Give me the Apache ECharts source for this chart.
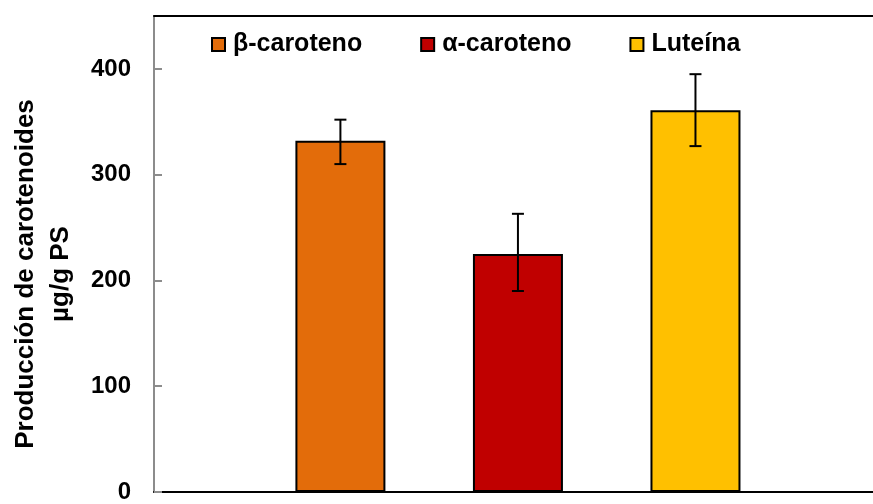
<!DOCTYPE html>
<html>
<head>
<meta charset="utf-8">
<script src="https://cdn.jsdelivr.net/npm/echarts@6/dist/echarts.min.js"></script>
<style>
  html, body { margin: 0; padding: 0; background: #ffffff; }
  #chart { width: 873px; height: 504px; }
</style>
</head>
<body>
<div id="chart"></div>
<script>
// ---- data ----
const seriesNames = ['β-caroteno', 'α-caroteno', 'Luteína'];
const positions = [1, 2, 3];
const means = [332, 225, 361];
const errLow = [310, 190, 327];
const errHigh = [352, 263, 395];
const colors = ['#E36C0A', '#C00000', '#FFC000'];
const yTicks = [0, 100, 200, 300, 400];
const yAxisTitle = 'Producción de carotenoides\nµg/g PS';

const FONT = '"Liberation Sans", Arial, sans-serif';

const chart = echarts.init(document.getElementById('chart'), null, { renderer: 'canvas' });

const barSeries = seriesNames.map((name, i) => ({
  name: name,
  type: 'bar',
  xAxisIndex: 0,
  yAxisIndex: 0,
  barWidth: 90,
  barGap: '-100%',
  data: [[positions[i], means[i]]],
  itemStyle: { color: colors[i], borderColor: '#000000', borderWidth: 2 },
  emphasis: { disabled: true },
  z: 2
}));

const errData = positions.map((p, i) => [p, errLow[i], errHigh[i]]);

const errSeries = {
  type: 'custom',
  name: 'err',
  xAxisIndex: 0,
  yAxisIndex: 0,
  data: errData,
  z: 5,
  encode: { x: 0, y: [1, 2] },
  renderItem: function (params, api) {
    const x = api.value(0);
    const lo = api.coord([x, api.value(1)]);
    const hi = api.coord([x, api.value(2)]);
    const hw = 6;
    const style = { stroke: '#000000', lineWidth: 2 };
    return {
      type: 'group',
      children: [
        { type: 'line', shape: { x1: hi[0], y1: hi[1], x2: lo[0], y2: lo[1] }, style: style },
        { type: 'line', shape: { x1: hi[0] - hw, y1: hi[1], x2: hi[0] + hw, y2: hi[1] }, style: style },
        { type: 'line', shape: { x1: lo[0] - hw, y1: lo[1], x2: lo[0] + hw, y2: lo[1] }, style: style }
      ]
    };
  }
};

const option = {
  animation: false,
  backgroundColor: '#ffffff',
  grid: { left: 151, top: 16, width: 728, height: 480, containLabel: false },
  legend: {
    data: seriesNames,
    left: 211,
    top: 32,
    padding: 0,
    itemGap: 58,
    itemWidth: 13,
    itemHeight: 13,
    icon: 'rect',
    textStyle: { fontFamily: FONT, fontWeight: 'bold', fontSize: 25, color: '#000000', padding: [0, 0, 0, 3] },
    selectedMode: false
  },
  xAxis: [
    {
      type: 'value',
      position: 'bottom',
      min: -0.05,
      max: 4,
      axisLine: { show: true, onZero: false, lineStyle: { color: '#000000', width: 2 } },
      axisTick: { show: false },
      axisLabel: { show: false },
      splitLine: { show: false }
    },
    {
      type: 'value',
      position: 'top',
      min: -0.05,
      max: 4,
      axisLine: { show: true, onZero: false, lineStyle: { color: '#000000', width: 2 } },
      axisTick: { show: false },
      axisLabel: { show: false },
      splitLine: { show: false }
    }
  ],
  yAxis: {
    type: 'value',
    min: 0,
    max: 450,
    interval: 50,
    name: yAxisTitle,
    nameLocation: 'middle',
    nameRotate: 90,
    nameGap: 76,
    nameTextStyle: { fontFamily: FONT, fontWeight: 'bold', fontSize: 26, color: '#000000', lineHeight: 35, align: 'center', padding: [0, 40, 0, 0] },
    axisLine: { show: true, onZero: false, lineStyle: { color: '#8c8c8c', width: 2 } },
    axisTick: { show: true, inside: true, length: 8, customValues: yTicks, lineStyle: { color: '#8c8c8c', width: 2 } },
    axisLabel: { fontFamily: FONT, fontWeight: 'bold', fontSize: 24, color: '#000000', margin: 23, customValues: yTicks },
    splitLine: { show: false }
  },
  series: barSeries.concat([errSeries])
};

chart.setOption(option);
</script>
</body>
</html>
